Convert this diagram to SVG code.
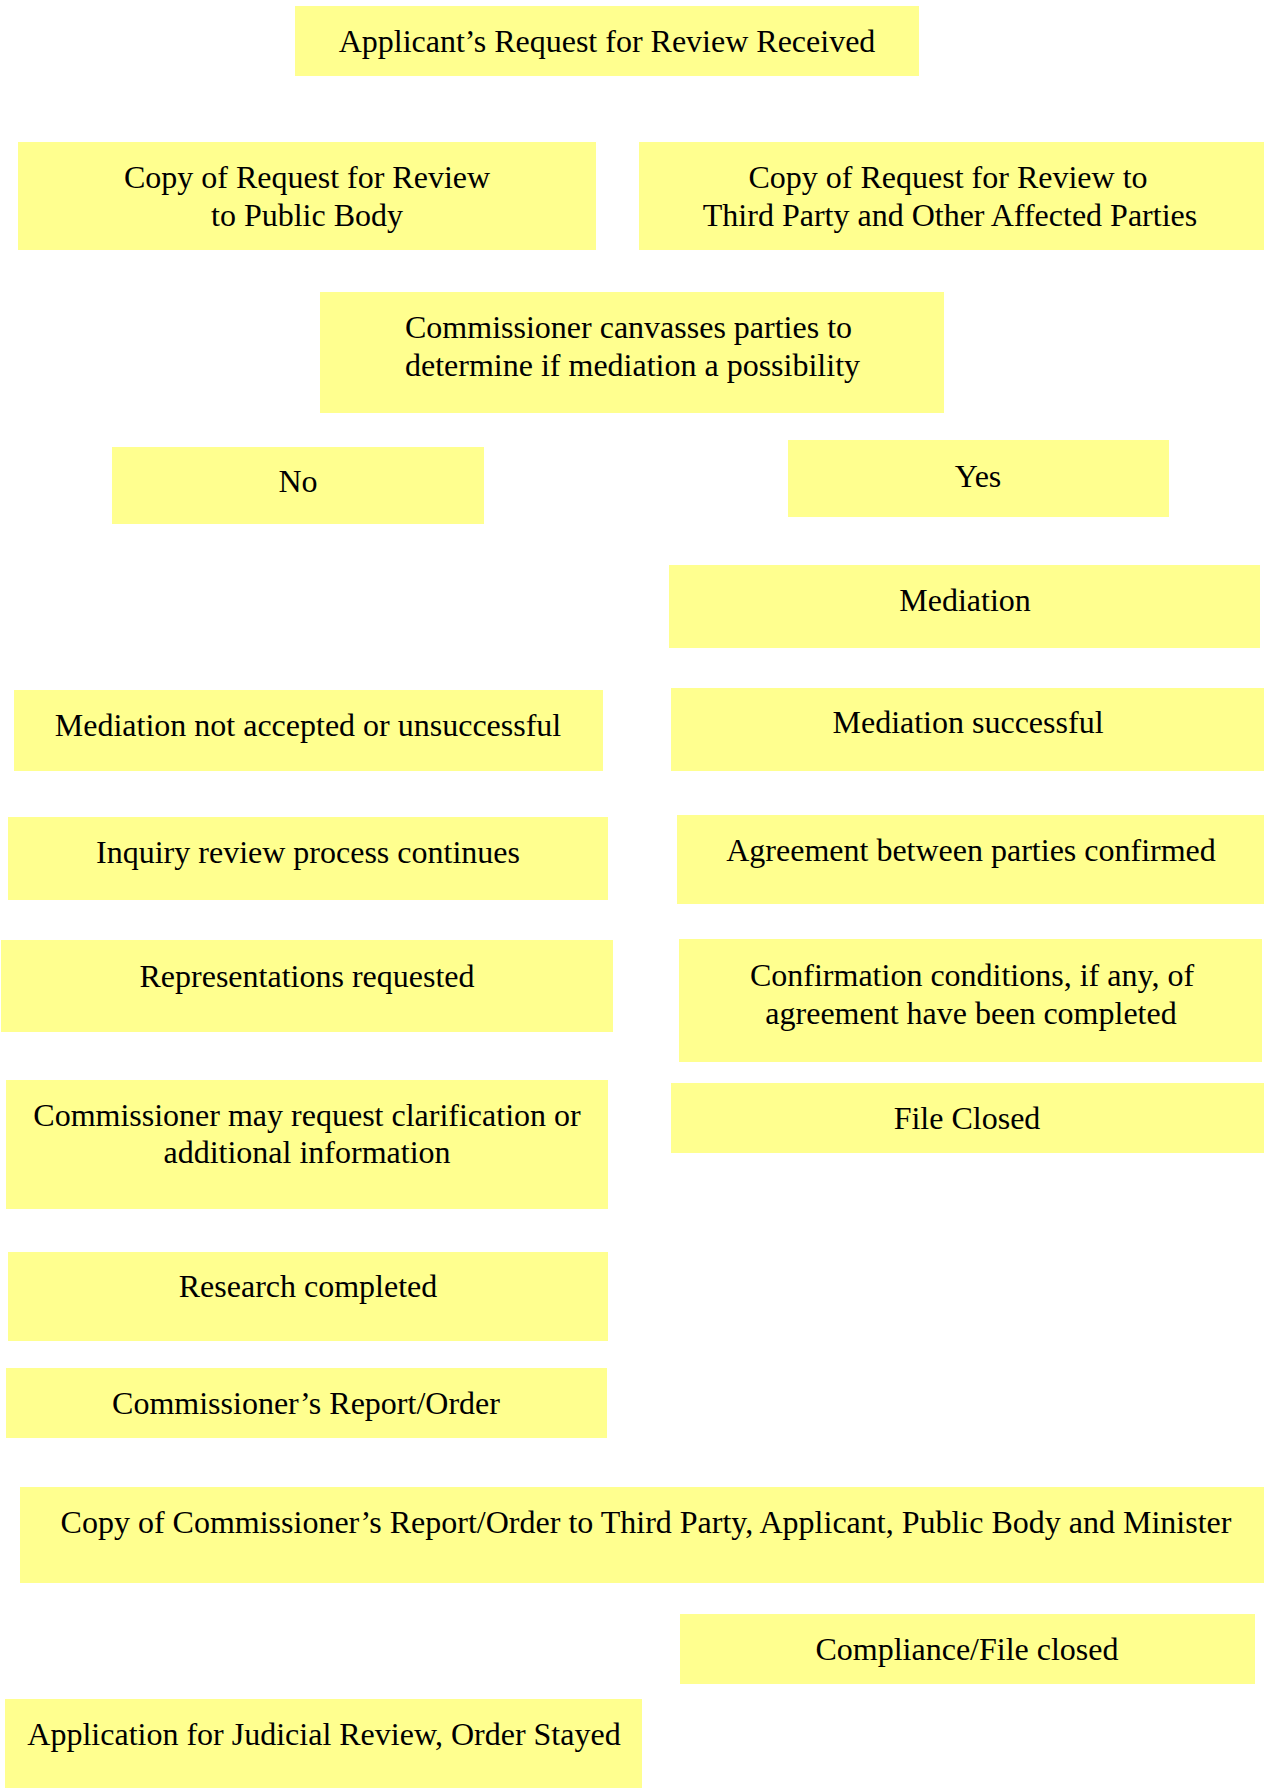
<svg xmlns="http://www.w3.org/2000/svg" width="1264" height="1788" viewBox="0 0 1264 1788">
<style>
.box{fill:#FFFF8F;stroke:none}
text{font-family:"Liberation Serif","Times New Roman",serif;font-size:32px;fill:#000}
.c{text-anchor:middle}
</style>
<rect width="1264" height="1788" fill="#fff"/>
<g id="connectors"></g>
<g id="n1"><rect class="box" x="295" y="6" width="624" height="70"/><text class="c" x="607" y="52">Applicant’s Request for Review Received</text></g>
<g id="n2"><rect class="box" x="18" y="142" width="578" height="108"/><text class="c" x="307" y="188">Copy of Request for Review</text><text class="c" x="307" y="226">to Public Body</text></g>
<g id="n3"><rect class="box" x="639" y="142" width="625" height="108"/><text class="c" x="948" y="188">Copy of Request for Review to</text><text class="c" x="950" y="226">Third Party and Other Affected Parties</text></g>
<g id="n4"><rect class="box" x="320" y="292" width="624" height="121"/><text x="405" y="338">Commissioner canvasses parties to</text><text x="405" y="376">determine if mediation a possibility</text></g>
<g id="n5"><rect class="box" x="112" y="447" width="372" height="77"/><text class="c" x="298" y="492">No</text></g>
<g id="n6"><rect class="box" x="788" y="440" width="381" height="77"/><text class="c" x="978" y="487">Yes</text></g>
<g id="n7"><rect class="box" x="669" y="565" width="591" height="83"/><text class="c" x="965" y="611">Mediation</text></g>
<g id="n8"><rect class="box" x="14" y="690" width="589" height="81"/><text class="c" x="308" y="736">Mediation not accepted or unsuccessful</text></g>
<g id="n9"><rect class="box" x="671" y="688" width="593" height="83"/><text class="c" x="968" y="733">Mediation successful</text></g>
<g id="n10"><rect class="box" x="8" y="817" width="600" height="83"/><text class="c" x="308" y="863">Inquiry review process continues</text></g>
<g id="n11"><rect class="box" x="677" y="815" width="587" height="89"/><text class="c" x="971" y="861">Agreement between parties confirmed</text></g>
<g id="n12"><rect class="box" x="1" y="940" width="612" height="92"/><text class="c" x="307" y="987">Representations requested</text></g>
<g id="n13"><rect class="box" x="679" y="939" width="583" height="123"/><text class="c" x="972" y="986">Confirmation conditions, if any, of</text><text class="c" x="971" y="1024">agreement have been completed</text></g>
<g id="n14"><rect class="box" x="6" y="1080" width="602" height="129"/><text class="c" x="307" y="1126">Commissioner may request clarification or</text><text class="c" x="307" y="1163">additional information</text></g>
<g id="n15"><rect class="box" x="671" y="1083" width="593" height="70"/><text class="c" x="967" y="1129">File Closed</text></g>
<g id="n16"><rect class="box" x="8" y="1252" width="600" height="89"/><text class="c" x="308" y="1297">Research completed</text></g>
<g id="n17"><rect class="box" x="6" y="1368" width="601" height="70"/><text class="c" x="306" y="1414">Commissioner’s Report/Order</text></g>
<g id="n18"><rect class="box" x="20" y="1487" width="1244" height="96"/><text class="c" x="646" y="1533">Copy of Commissioner’s Report/Order to Third Party, Applicant, Public Body and Minister</text></g>
<g id="n19"><rect class="box" x="680" y="1614" width="575" height="70"/><text class="c" x="967" y="1660">Compliance/File closed</text></g>
<g id="n20"><rect class="box" x="5" y="1699" width="637" height="89"/><text class="c" x="324" y="1745">Application for Judicial Review, Order Stayed</text></g>
</svg>
